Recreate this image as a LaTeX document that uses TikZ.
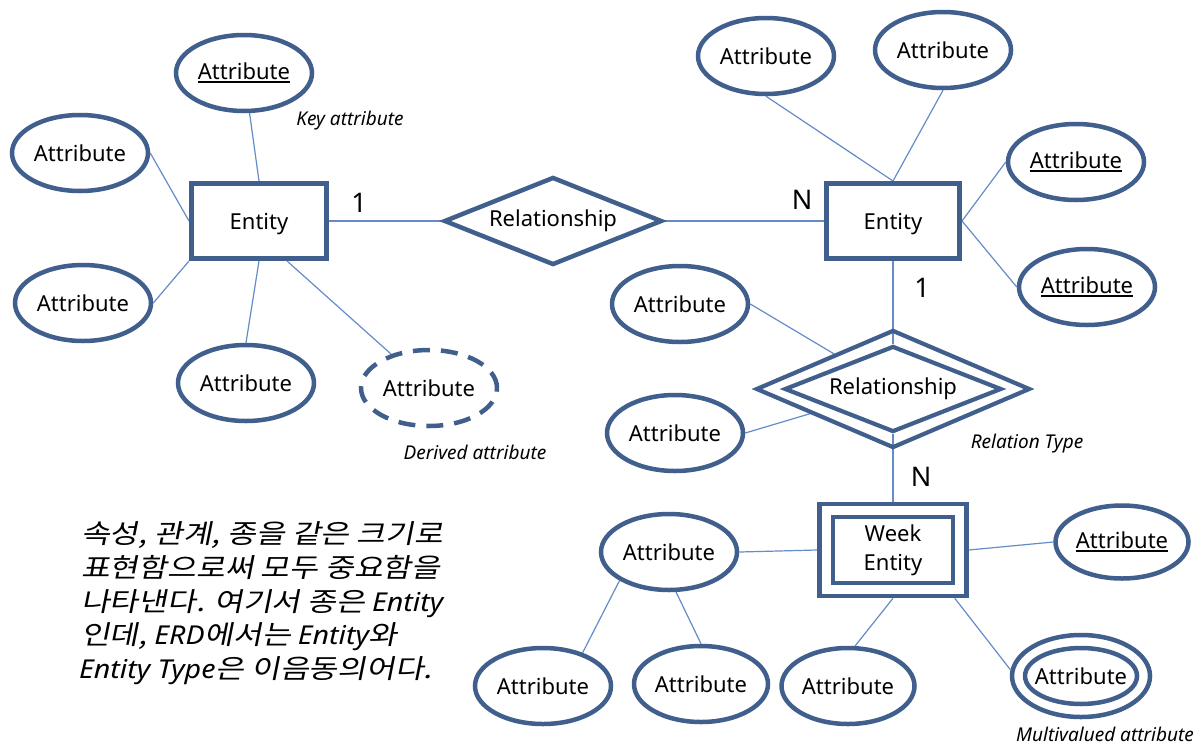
\documentclass[tikz,border=0pt]{standalone}
\usepackage{fontspec}
\setmainfont{Noto Sans}
\newfontfamily\krfont[FakeSlant=0.2,FakeStretch=1.18]{Noto Sans CJK KR}
\newfontfamily\latinfont[FakeStretch=1.1]{Noto Sans}
\usetikzlibrary{shapes.geometric}
\pgfdeclarelayer{paper}
\pgfdeclarelayer{links}
\pgfsetlayers{paper,links,main}

\definecolor{edgeblue}{RGB}{64,95,140}
\definecolor{linkblue}{RGB}{100,140,200}

\newcommand\attrfont{\fontsize{22pt}{26pt}\selectfont}
\newcommand\notefont{\fontsize{19pt}{22pt}\selectfont\itshape}
\newcommand\cardfont{\fontsize{27pt}{30pt}\selectfont}
\newcommand\krtext{\krfont\fontsize{26.5pt}{33.5pt}\selectfont}
\newcommand\latin[1]{{\latinfont\itshape\fontsize{26pt}{33.5pt}\selectfont #1}}
% underlined key attribute name
\newsavebox\ulbox
\newcommand\keyname[1]{\sbox\ulbox{#1}\rlap{\rule[-3pt]{\wd\ulbox}{1.4pt}}\usebox\ulbox}

\begin{document}
\begin{tikzpicture}[x=1pt,y=-1pt,
  attr/.style={ellipse,draw=edgeblue,line width=4.5pt,minimum width=136pt,minimum height=76pt,inner sep=0pt,font=\attrfont},
  derived/.style={attr,dash pattern=on 17pt off 11pt},
  ent/.style={rectangle,draw=edgeblue,line width=5pt,minimum width=135pt,minimum height=75pt,inner sep=0pt,font=\attrfont},
  rel/.style={diamond,draw=edgeblue,line width=4.5pt,aspect=2.3,inner sep=0pt,font=\attrfont},
  link/.style={draw=linkblue,line width=1.2pt},
  note/.style={font=\notefont,inner sep=0pt},
  card/.style={font=\cardfont,inner sep=0pt},
  krline/.style={anchor=base west,inner sep=0pt,font=\krtext}]

\begin{pgfonlayer}{paper}
  \fill[white] (0,0) rectangle (1204,747);
\end{pgfonlayer}
\useasboundingbox (0,0) rectangle (1204,747);

% ---- left entity and its attributes
\node[ent,text depth=0pt] (e1) at (259,221) {Entity};
\node[attr] (k1) at (244,73) {\keyname{Attribute}};
\node[attr] (a1) at (80,153) {Attribute};
\node[attr] (a2) at (83,303) {Attribute};
\node[attr] (a3) at (246,383) {Attribute};
\node[derived] (d1) at (429,388) {Attribute};
\node[note] (kn) at (350,121) {Key attribute};
\node[note] (dn) at (475,452) {Derived attribute};

% ---- relationship
\node[rel,minimum width=218pt,minimum height=88pt] (r) at (553,221) {Relationship};
\node[card] (c1) at (359,203) {1};
\node[card] (cn) at (802,200) {N};

% ---- right entity and its attributes
\node[ent,text depth=0pt,minimum width=133pt] (e2) at (893,221) {Entity};
\node[attr] (t1) at (766,56) {Attribute};
\node[attr] (t2) at (943,50) {Attribute};
\node[attr] (r1) at (1076,162) {\keyname{Attribute}};
\node[attr] (r2) at (1087,287) {\keyname{Attribute}};
\node[card] (c2) at (922,288) {1};

% ---- identifying relationship
\node[rel,line width=4.2pt,minimum width=274pt,minimum height=118pt] (dd) at (893,389) {};
\node[rel,line width=4.2pt,minimum width=217pt,minimum height=86pt] (dd2) at (893,389) {Relationship};
\node[attr] (aa) at (680,304) {Attribute};
\node[attr] (ab) at (675,433) {Attribute};
\node[note] (rt) at (1027,444) {Relation Type};
\node[card] (c3) at (921,477) {N};

% ---- weak entity
\node[ent,line width=4.5pt,minimum width=147pt,minimum height=92pt] (w) at (893,550) {};
\node[ent,line width=4.5pt,minimum width=120pt,minimum height=66pt,align=center,
      font=\fontsize{22pt}{29pt}\selectfont] (wi) at (893,550) {Week\\Entity};
\node[attr] (wl) at (669,552) {Attribute};
\node[attr,minimum width=133pt,minimum height=73pt] (wr) at (1122,542) {\keyname{Attribute}};
\node[attr] (b1) at (543,686) {Attribute};
\node[attr,minimum width=134pt] (b2) at (701,684) {Attribute};
\node[attr,minimum width=133pt] (b3) at (848,686) {Attribute};
\node[attr,minimum width=138pt,minimum height=82pt] (mv) at (1081,676) {};
\node[attr,minimum width=112pt,minimum height=56pt] (mvi) at (1081,676) {\makebox[0pt]{Attribute}};
\node[note] (mn) at (1105,734) {Multivalued attribute};

% ---- explanatory text
\node[krline] (kr1) at (81,543) {속성, 관계, 종을 같은 크기로};
\node[krline] (kr2) at (81,577) {표현함으로써 모두 중요함을};
\node[krline] (kr3) at (81,611) {나타낸다. 여기서 종은 \latin{Entity}};
\node[krline] (kr4) at (81,644) {인데, \latin{ERD}에서는 \latin{Entity}와};
\node[krline] (kr5) at (79,678) {\latin{Entity Type}은 이음동의어다.};

% ---- connectors
\begin{pgfonlayer}{links}
  \draw[link] (k1) -- (e1.north);
  \draw[link] (a1.east) -- (e1.west);
  \draw[link] (a2.east) -- (e1.south west);
  \draw[link] (a3.north) -- (e1.south);
  \draw[link] (d1) -- (e1.-55);
  \draw[link] (e1.east) -- (r.west);
  \draw[link] (r.east) -- (e2.west);
  \draw[link] (t1.south) -- (e2.north);
  \draw[link] (t2.south) -- (e2.north);
  \draw[link] (r1.west) -- (e2.east);
  \draw[link] (r2.west) -- (e2.east);
  \draw[link] (e2.south) -- (dd2.north);
  \draw[link] (aa.east) -- (dd);
  \draw[link] (ab.east) -- (dd);
  \draw[link] (dd2.south) -- (w.north);
  \draw[link] (wl.east) -- (w.west);
  \draw[link] (w.east) -- (wr.west);
  \draw[link] (wl.-150) -- (b1.40);
  \draw[link] (wl.-80) -- (b2.north);
  \draw[link] (w.south) -- (b3.80);
  \draw[link] (w.-38) -- (mv.175);
\end{pgfonlayer}
\end{tikzpicture}
\end{document}
